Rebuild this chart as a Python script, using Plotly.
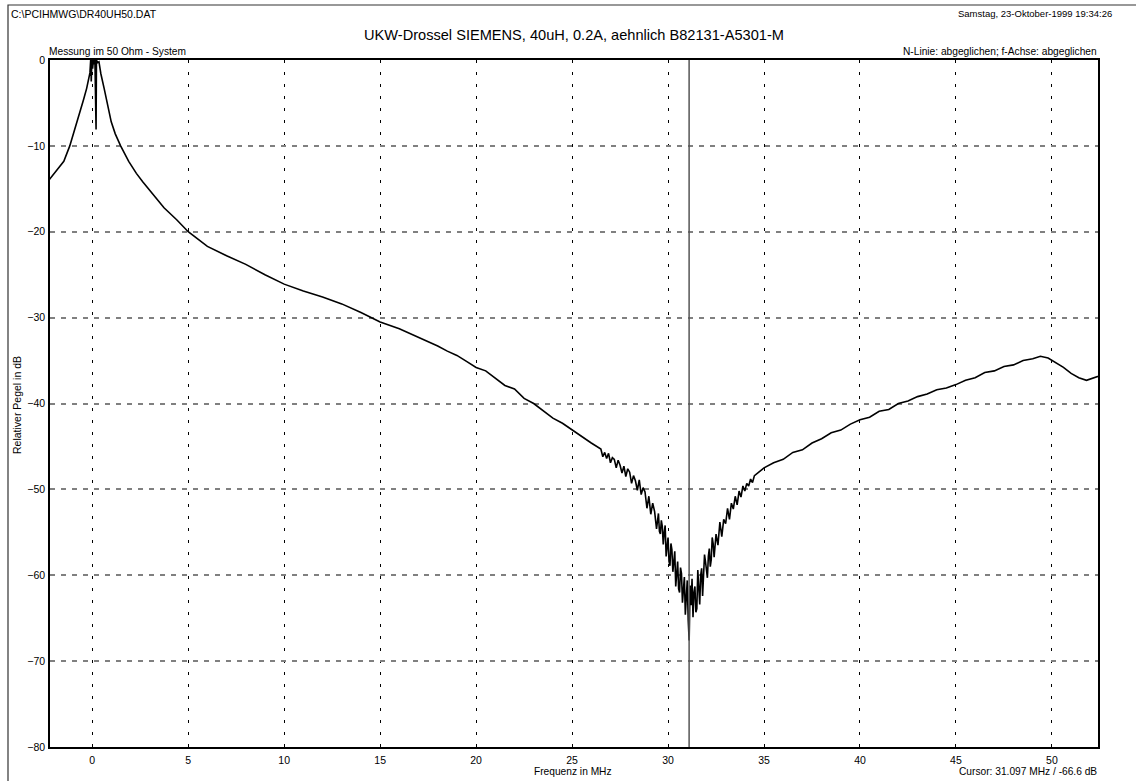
import plotly.graph_objects as go

# ---------------- data ----------------
# low-frequency part: resonance peak and falling slope
freq_low = [
    -2.3, -1.9, -1.48, -1.17, -0.9, -0.66, -0.45, -0.29, -0.2, -0.15,
    -0.12, -0.08, -0.05, -0.02, 0.02, 0.06, 0.1, 0.14, 0.2, 0.22, 0.28, 0.35,
    0.45, 0.62, 0.8, 0.99, 1.2, 1.48, 1.9, 2.3, 2.64, 3.2, 3.74, 4.4, 5.0,
    6.0, 7.0, 8.0, 9.0, 10.0, 11.0, 12.0, 13.0, 14.0, 15.0, 16.0, 17.0,
    18.0, 18.5, 19.0, 19.5, 20.0, 20.5, 21.0, 21.5, 22.0, 22.5, 23.0, 23.5,
    24.0, 24.5, 25.0, 25.5, 26.0,
]
level_low = [
    -14.1, -13.0, -11.8, -10.0, -8.0, -6.4, -4.6, -3.3, -2.4, -2.1,
    -1.5, 0.0, -2.5, 0.0, -1.0, 0.0, -0.5, 0.0, -8.1, 0.0, -0.3, -0.2,
    -1.6, -3.3, -5.3, -7.2, -8.6, -10.0, -11.8, -13.2, -14.2, -15.8, -17.2, -18.6, -20.0,
    -21.7, -22.8, -23.8, -25.0, -26.1, -26.9, -27.6, -28.4, -29.4, -30.5, -31.3, -32.3,
    -33.3, -33.9, -34.4, -35.1, -35.8, -36.2, -37.0, -37.9, -38.3, -39.4, -40.0, -40.8,
    -41.7, -42.3, -43.1, -43.8, -44.6,
]

# noisy series-resonance dip
freq_dip = [
    26.5, 26.6, 26.7, 26.8, 26.9, 27.0, 27.1, 27.2, 27.3, 27.4,
    27.5, 27.6, 27.7, 27.8, 27.9, 28.0, 28.1, 28.2, 28.3, 28.4,
    28.5, 28.6, 28.7, 28.8, 28.9, 29.0, 29.1, 29.2, 29.3, 29.4,
    29.5, 29.55, 29.6, 29.65, 29.7, 29.75, 29.8, 29.85, 29.9, 29.95,
    30.0, 30.05, 30.1, 30.15, 30.2, 30.25, 30.3, 30.35, 30.4, 30.45,
    30.5, 30.55, 30.6, 30.65, 30.7, 30.75, 30.8, 30.85, 30.9, 30.95,
    31.0, 31.05, 31.1, 31.15, 31.2, 31.25, 31.3, 31.35, 31.4, 31.45,
    31.5, 31.55, 31.6, 31.65, 31.7, 31.75, 31.8, 31.85, 31.9, 31.95,
    32.0, 32.05, 32.1, 32.15, 32.2, 32.25, 32.3, 32.35, 32.4, 32.45,
    32.5, 32.6, 32.7, 32.8, 32.9, 33.0,
    33.1, 33.2, 33.3, 33.4, 33.5, 33.6, 33.7, 33.8, 33.9, 34.0,
    34.1, 34.2, 34.3, 34.4, 34.5,
]
level_dip = [
    -45.3, -46.2, -45.7, -46.4, -45.8, -46.9, -46.3, -46.5, -47.5, -46.6,
    -47.2, -48.1, -47.3, -48.5, -47.6, -48.0, -49.3, -48.4, -49.0, -50.1,
    -48.9, -50.6, -49.8, -50.3, -52.2, -50.8, -52.9, -51.6, -52.6, -54.6,
    -52.8, -54.9, -55.2, -53.6, -54.3, -56.4, -55.0, -54.2, -57.8, -56.1,
    -55.6, -58.4, -58.9, -56.3, -57.0, -59.6, -58.1, -57.2, -61.3, -59.0,
    -58.4, -61.6, -62.0, -59.1, -59.8, -63.2, -61.0, -60.2, -64.6, -61.8,
    -60.6, -65.2, -67.6, -61.2, -63.5, -60.4, -64.9, -62.0, -61.3, -64.3,
    -63.9, -59.4, -62.6, -63.4, -60.0, -59.2, -62.4, -60.6, -57.6, -58.4,
    -59.9, -60.3, -57.8, -56.9, -59.0, -58.2, -55.6, -56.3, -57.9, -56.8,
    -55.2, -56.5, -53.8, -55.5, -53.5, -54.0,
    -52.2, -53.5, -51.6, -52.3, -50.8, -51.8, -50.2, -50.9, -49.6, -50.2,
    -49.3, -49.6, -48.8, -49.2, -48.4,
]

# rising part above the dip, with the bump near 50 MHz
freq_high = [
    35.0, 35.5, 36.0, 36.5, 37.0, 37.5, 38.0, 38.5, 39.0, 39.5,
    40.0, 40.5, 41.0, 41.5, 42.0, 42.5, 43.0, 43.5, 44.0, 44.5,
    45.0, 45.5, 46.0, 46.5, 47.0, 47.5, 48.0, 48.5, 49.0, 49.4,
    49.8, 50.2, 50.6, 51.0, 51.4, 51.8, 52.2, 52.7,
]
level_high = [
    -47.5, -46.9, -46.5, -45.7, -45.4, -44.6, -44.1, -43.4, -43.1, -42.4,
    -41.9, -41.6, -40.9, -40.7, -40.0, -39.7, -39.2, -38.9, -38.4, -38.2,
    -37.8, -37.3, -37.0, -36.4, -36.2, -35.7, -35.5, -35.0, -34.8, -34.5,
    -34.7, -35.2, -35.8, -36.5, -37.0, -37.3, -37.0, -36.6,
]

x_ticks = [0, 5, 10, 15, 20, 25, 30, 35, 40, 45, 50]
y_ticks = [0, -10, -20, -30, -40, -50, -60, -70, -80]
cursor_f = 31.097
cursor_db = -66.6

file_name = "C:\\PCIHMWG\\DR40UH50.DAT"
date_text = "Samstag, 23-Oktober-1999 19:34:26"
title_text = "UKW-Drossel SIEMENS, 40uH, 0.2A, aehnlich B82131-A5301-M"
left_note = "Messung im 50 Ohm - System"
right_note = "N-Linie: abgeglichen; f-Achse: abgeglichen"
x_title = "Frequenz in MHz"
y_title = "Relativer Pegel in dB"

freq_mhz = freq_low + freq_dip + freq_high
level_db = level_low + level_dip + level_high

# ---------------- layout geometry ----------------
W, H = 1136, 781
L, R, T, B = 50, 1098, 60, 747


def px(xp):
    return (xp - L) / (R - L)


def py(yp):
    return (B - yp) / (B - T)


FONT = "Arial, Liberation Sans, sans-serif"

fig = go.Figure()
fig.add_trace(go.Scatter(
    x=freq_mhz, y=level_db, mode="lines",
    line=dict(color="black", width=1.6),
    hoverinfo="skip", showlegend=False,
))

fig.add_shape(type="line", xref="x", yref="paper",
              x0=cursor_f, x1=cursor_f, y0=0, y1=1,
              line=dict(color="#555555", width=1.5))

# outer frame
fig.add_shape(type="rect", xref="paper", yref="paper",
              x0=px(8), x1=px(1160), y0=py(800), y1=py(5),
              line=dict(color="#333333", width=1.2), layer="below")

ann = []


def add_text(text, xp, yp, xanchor, size, **kw):
    ann.append(dict(text=text, x=px(xp), y=py(yp), xref="paper", yref="paper",
                    xanchor=xanchor, yanchor="middle", showarrow=False,
                    font=dict(family=FONT, size=size, color="black"), **kw))


add_text(file_name, 9, 14, "left", 10.5)
add_text(date_text, 1114, 14, "right", 9.5)
add_text(title_text, 574, 35, "center", 14.6)
add_text(left_note, 47, 52, "left", 10.2)
add_text(right_note, 1099, 52, "right", 10.2)
add_text(x_title, 573, 771, "center", 10.2)
add_text("Cursor: %.3f MHz / %.1f dB" % (cursor_f, cursor_db), 1099, 771, "right", 10.2)
ann.append(dict(text=y_title, x=px(17), y=py(405), xref="paper", yref="paper",
                xanchor="center", yanchor="middle", showarrow=False, textangle=-90,
                font=dict(family=FONT, size=10.5, color="black")))

fig.update_layout(
    width=W, height=H,
    margin=dict(l=L, r=W - R, t=T, b=H - B, pad=0),
    paper_bgcolor="white", plot_bgcolor="white",
    font=dict(family=FONT, size=10, color="black"),
    annotations=ann,
    showlegend=False,
    xaxis=dict(range=[-2.2, 52.4], tickvals=x_ticks, ticks="",
               showgrid=True, gridcolor="black", gridwidth=1, griddash="3px,9px",
               showline=True, linecolor="black", linewidth=1.5, mirror=True,
               zeroline=False, tickfont=dict(size=10.5), ticklabelstandoff=3),
    yaxis=dict(range=[-80, 0], tickvals=y_ticks, ticks="",
               showgrid=True, gridcolor="#808080", gridwidth=1.5, griddash="5px,6px",
               showline=True, linecolor="black", linewidth=1.5, mirror=True,
               zeroline=False, tickfont=dict(size=10.5), ticklabelstandoff=1),
)

fig.write_html("out.html", config={"displayModeBar": False},
               post_script="document.body.style.margin='0';")
